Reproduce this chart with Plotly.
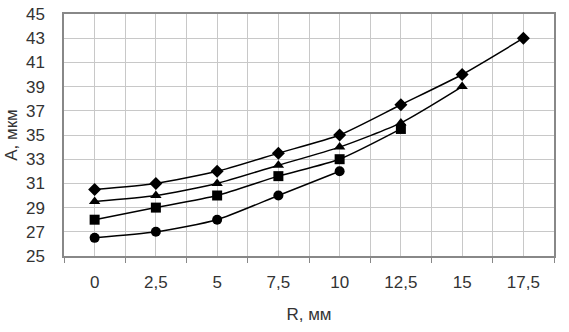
import plotly.graph_objects as go

r_vals = [0, 2.5, 5, 7.5, 10, 12.5, 15, 17.5]
r_labels = ["0", "2,5", "5", "7,5", "10", "12,5", "15", "17,5"]

diamond = [30.5, 31, 32, 33.5, 35, 37.5, 40, 43]
triangle = [29.5, 30, 31, 32.5, 34, 36, 39]
square = [28, 29, 30, 31.6, 33, 35.5]
circle = [26.5, 27, 28, 30, 32]

y_ticks = list(range(25, 46, 2))

fig = go.Figure()
for vals, sym in [(diamond, "diamond"), (triangle, "triangle-up"),
                  (square, "square"), (circle, "circle")]:
    fig.add_trace(go.Scatter(
        x=r_vals[:len(vals)], y=vals, mode="lines+markers",
        line=dict(color="black", width=1.5, shape="spline", smoothing=0.6),
        marker=dict(symbol=sym, size=10, color="black"),
        showlegend=False))

bounds = [v - 1.25 for v in r_vals] + [r_vals[-1] + 1.25]

fig.update_layout(
    width=569, height=332,
    margin=dict(l=64, r=15, t=14, b=76),
    paper_bgcolor="white", plot_bgcolor="white",
    font=dict(family="Liberation Sans, Arial, sans-serif", size=17, color="#333333"),
    xaxis=dict(
        range=[-1.25, 18.75], tickvals=r_vals, ticktext=r_labels,
        showgrid=True, gridcolor="#c8c8c8", gridwidth=1,
        ticks="", ticklabelstandoff=10, automargin=False,
        minor=dict(tickvals=bounds, ticks="outside", ticklen=5, tickcolor="#888888",
                   showgrid=True, gridcolor="#c8c8c8", gridwidth=1),
        showline=True, linecolor="#888888", linewidth=1.5, mirror=True,
        zeroline=False,
        title=dict(text="R, мм", font=dict(size=17, color="#333333"), standoff=17),
    ),
    yaxis=dict(
        range=[25, 45], tickvals=y_ticks,
        showgrid=True, gridcolor="#c8c8c8", gridwidth=1,
        ticks="", ticklabelstandoff=14, automargin=False,
        showline=True, linecolor="#888888", linewidth=1.5, mirror=True,
        zeroline=False,
        title=dict(text="A, мкм", font=dict(size=17, color="#333333"), standoff=4),
    ),
)

fig.write_html("out.html", config={"displayModeBar": False},
               post_script="document.body.style.margin='0';")
